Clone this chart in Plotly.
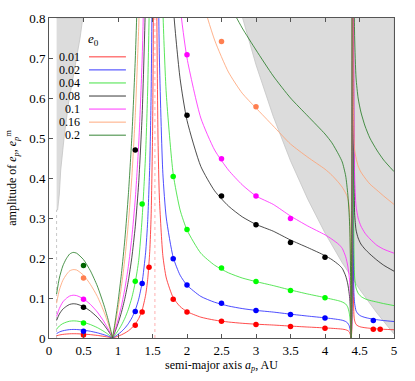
import plotly.graph_objects as go

# ---------------- data ----------------
e0_labels = ["0.01", "0.02", "0.04", "0.08", "0.1", "0.16", "0.2"]
line_colors = ["#ff2020", "#2020ff", "#30e030", "#202020", "#ff20ff", "#ffa070", "#207820"]
dot_colors = ["#ff0000", "#0000ff", "#00ff00", "#000000", "#ff00ff", "#ff7f50", "#006400"]

# x grids of the curve segments (semi-major axis, AU)
XA = [0.11, 0.15, 0.2, 0.25, 0.3, 0.35, 0.4, 0.5, 0.6, 0.7, 0.8, 0.86, 0.9, 0.92]
XB = [0.92, 0.95, 1.0, 1.05, 1.1, 1.15, 1.2, 1.25, 1.3, 1.35, 1.4, 1.43, 1.46, 1.48, 1.5, 1.51, 1.52, 1.525]
XC = [1.545, 1.55, 1.56, 1.58, 1.6, 1.65, 1.7, 1.8, 1.9, 2.0, 2.2, 2.4, 2.6, 2.8, 3.0, 3.25, 3.5, 3.75,
      4.0, 4.1, 4.2, 4.25, 4.3, 4.33, 4.35, 4.36, 4.37, 4.378, 4.385, 4.39, 4.395, 4.398, 4.3995]
XD = [4.401, 4.403, 4.406, 4.41, 4.42, 4.43, 4.45, 4.48, 4.52, 4.58, 4.65, 4.75, 4.85, 5.0]

N = None
red_A = [0.0055, 0.0075, 0.009, 0.0099, 0.0105, 0.0107, 0.0106, 0.0098, 0.0084, 0.0065, 0.004, 0.0022, 0.0008, 0]
blue_A = [0.011, 0.015, 0.018, 0.0198, 0.021, 0.0214, 0.0212, 0.0196, 0.0168, 0.013, 0.008, 0.0044, 0.0016, 0]
green_A = [0.022, 0.03, 0.036, 0.0396, 0.042, 0.0428, 0.0424, 0.0392, 0.0336, 0.026, 0.016, 0.0088, 0.0032, 0]
black_A = [0.044, 0.06, 0.072, 0.079, 0.084, 0.0856, 0.0848, 0.0784, 0.0672, 0.052, 0.032, 0.0176, 0.0064, 0]
magenta_A = [0.054, 0.074, 0.09, 0.099, 0.105, 0.107, 0.106, 0.098, 0.084, 0.065, 0.04, 0.022, 0.008, 0]
orange_A = [0.087, 0.12, 0.144, 0.158, 0.168, 0.171, 0.17, 0.157, 0.134, 0.104, 0.064, 0.035, 0.013, 0]
dkgreen_A = [0.11, 0.15, 0.18, 0.198, 0.21, 0.214, 0.212, 0.196, 0.168, 0.13, 0.08, 0.044, 0.016, 0]

red_B = [0, 0.0015, 0.0045, 0.008, 0.0124, 0.0179, 0.0251, 0.0347, 0.0485, 0.0697, 0.107, 0.146, 0.216, 0.305, 0.497, 0.708, 1.2, 1.8]
blue_B = [0, 0.0031, 0.009, 0.0161, 0.0248, 0.0358, 0.0501, 0.0695, 0.097, 0.139, 0.213, 0.291, 0.432, 0.61, 0.994, 1.42, N, N]
green_B = [0, 0.0062, 0.018, 0.0322, 0.0496, 0.0717, 0.1003, 0.139, 0.194, 0.3, 0.46, 0.62, 0.9, 1.25, N, N, N, N]
black_B = [0, 0.0123, 0.0359, 0.0643, 0.0993, 0.143, 0.2006, 0.278, 0.388, 0.558, 0.854, 1.17, N, N, N, N, N, N]
magenta_B = [0, 0.0154, 0.0449, 0.0804, 0.124, 0.179, 0.251, 0.347, 0.485, 0.697, 1.067, N, N, N, N, N, N, N]
orange_B = [0, 0.0246, 0.0718, 0.129, 0.199, 0.287, 0.401, 0.556, 0.776, 1.116, N, N, N, N, N, N, N, N]
dkgreen_B = [0, 0.0308, 0.0898, 0.161, 0.248, 0.358, 0.501, 0.695, 0.97, 1.39, N, N, N, N, N, N, N, N]

red_C = [2.17, 1.45, 0.878, 0.497, 0.35, 0.206, 0.15, 0.1008, 0.0786, 0.066, 0.0521, 0.0447, 0.04, 0.0368,
         0.0345, 0.0324, 0.0298, 0.0274, 0.0252, 0.0242, 0.023, 0.0222, 0.0206, 0.0185, 0.0155, 0.0125, 0.007,
         0, 0.01, 0.025, 0.08, 0.3, 1.0]
blue_C = [4.33, 2.9, 1.756, 0.994, 0.7, 0.412, 0.3, 0.2016, 0.157, 0.132, 0.104, 0.0894, 0.08, 0.0736,
          0.069, 0.0648, 0.0596, 0.0548, 0.0504, 0.0484, 0.046, 0.0444, 0.0412, 0.037, 0.031, 0.025, 0.014,
          0, 0.02, 0.05, 0.16, 0.6, 2.0]
green_C = [N, N, 3.51, 1.99, 1.4, 0.824, 0.61, 0.41, 0.32, 0.27, 0.212, 0.182, 0.163, 0.15,
           0.141, 0.131, 0.12, 0.11, 0.101, 0.097, 0.093, 0.09, 0.085, 0.077, 0.064, 0.052, 0.03,
           0, 0.04, 0.1, 0.32, 1.2, 4.0]
black_C = [N, N, N, N, N, N, 1.236, 0.83, 0.648, 0.544, 0.429, 0.368, 0.33, 0.303,
           0.284, 0.267, 0.245, 0.226, 0.206, 0.196, 0.183, 0.174, 0.155, 0.135, 0.112, 0.095, 0.055,
           0, 0.08, 0.2, 0.64, 2.4, 8.0]
magenta_C = [N, N, N, N, N, N, N, 1.07, 0.83, 0.7, 0.55, 0.47, 0.42, 0.383,
             0.355, 0.334, 0.305, 0.28, 0.258, 0.247, 0.234, 0.224, 0.203, 0.18, 0.155, 0.135, 0.08,
             0, 0.1, 0.25, 0.8, 3.0, 10.0]
orange_C = [N, N, N, N, N, N, N, N, 1.28, 1.07, 0.86, 0.745, 0.665, 0.612,
            0.575, 0.53, 0.485, 0.452, 0.422, 0.407, 0.388, 0.377, 0.362, 0.35, 0.33, 0.3, 0.2,
            0, 0.16, 0.4, 1.28, 4.8, 16.0]
dkgreen_C = [N, N, N, N, N, N, N, N, N, N, N, 0.93, 0.84, 0.775,
             0.72, 0.655, 0.6, 0.555, 0.51, 0.488, 0.458, 0.44, 0.405, 0.36, 0.31, 0.27, 0.17,
             0, 0.2, 0.5, 1.6, 6.0, 20.0]

red_D = [2.0, 0.6, 0.25, 0.12, 0.055, 0.043, 0.034, 0.03, 0.0275, 0.0257, 0.0243, 0.0229, 0.0218, 0.0206]
blue_D = [4.0, 1.2, 0.5, 0.24, 0.11, 0.086, 0.068, 0.06, 0.055, 0.0514, 0.0486, 0.0458, 0.0436, 0.0412]
green_D = [8.0, 2.4, 1.0, 0.48, 0.22, 0.15, 0.125, 0.112, 0.104, 0.098, 0.094, 0.09, 0.086, 0.081]
black_D = [16.0, 4.8, 2.0, 0.96, 0.45, 0.31, 0.27, 0.25, 0.235, 0.222, 0.21, 0.195, 0.182, 0.167]
magenta_D = [20.0, 6.0, 2.5, 1.2, 0.55, 0.4, 0.33, 0.3, 0.28, 0.262, 0.248, 0.232, 0.222, 0.212]
orange_D = [32.0, 9.6, 2.0, 0.6, 0.5, 0.47, 0.45, 0.43, 0.415, 0.4, 0.385, 0.37, 0.355, 0.334]
dkgreen_D = [40.0, 12.0, 5.0, 2.0, 0.9, 0.75, 0.65, 0.6, 0.565, 0.53, 0.5, 0.47, 0.445, 0.416]

# numerical points (dots)
red_dx = [0.5, 1.25, 1.35, 1.45, 1.8, 2.0, 2.5, 3.0, 3.5, 4.0, 4.7, 4.8]
red_dy = [0.0075, 0.032, 0.065, 0.177, 0.097, 0.065, 0.042, 0.034, 0.029, 0.0245, 0.022, 0.022]
blue_dx = [0.5, 1.25, 1.35, 1.8, 2.0, 2.5, 3.0, 3.5, 4.0, 4.7]
blue_dy = [0.017, 0.066, 0.136, 0.198, 0.1325, 0.087, 0.0687, 0.059, 0.05, 0.044]
green_dx = [0.5, 1.25, 1.35, 1.8, 2.0, 2.5, 3.0, 3.5, 4.0]
green_dy = [0.0375, 0.142, 0.335, 0.404, 0.271, 0.175, 0.141, 0.119, 0.1006]
black_dx = [0.5, 1.25, 2.0, 2.5, 3.0, 3.5, 4.0]
black_dy = [0.077, 0.47, 0.557, 0.355, 0.283, 0.239, 0.202]
magenta_dx = [0.5, 2.0, 2.5, 3.0, 3.5]
magenta_dy = [0.097, 0.708, 0.448, 0.355, 0.299]
orange_dx = [0.5, 2.5, 3.0]
orange_dy = [0.15, 0.741, 0.578]
dkgreen_dx = [0.5]
dkgreen_dy = [0.181]

# grey (excluded) regions
left_zone_a = [0.11, 0.49, 0.45, 0.36, 0.28, 0.22, 0.17, 0.15, 0.125, 0.11]
left_zone_e = [0.8, 0.8, 0.75, 0.665, 0.584, 0.503, 0.42, 0.36, 0.32, 0.32]
right_zone_a = [2.806, 3.0, 3.25, 3.5, 3.75, 4.0, 4.25, 4.5, 4.75, 5.0, 5.0]
right_zone_e = [0.8, 0.683, 0.554, 0.443, 0.347, 0.2625, 0.188, 0.122, 0.063, 0.01, 0.8]

resonance_a = 1.535
inner_edge_a = 0.11
x_ticks = [0, 0.5, 1, 1.5, 2, 2.5, 3, 3.5, 4, 4.5, 5]
y_ticks = [0, 0.1, 0.2, 0.3, 0.4, 0.5, 0.6, 0.7, 0.8]

curves = [
    (red_A, red_B, red_C, red_D, red_dx, red_dy),
    (blue_A, blue_B, blue_C, blue_D, blue_dx, blue_dy),
    (green_A, green_B, green_C, green_D, green_dx, green_dy),
    (black_A, black_B, black_C, black_D, black_dx, black_dy),
    (magenta_A, magenta_B, magenta_C, magenta_D, magenta_dx, magenta_dy),
    (orange_A, orange_B, orange_C, orange_D, orange_dx, orange_dy),
    (dkgreen_A, dkgreen_B, dkgreen_C, dkgreen_D, dkgreen_dx, dkgreen_dy),
]

# ---------------- figure ----------------
FONT = "Liberation Serif"
fig = go.Figure()

grey = "#dcdcdc"
for ax, ey in [(left_zone_a, left_zone_e), (right_zone_a, right_zone_e)]:
    fig.add_trace(go.Scatter(x=ax, y=ey, mode="lines", fill="toself", fillcolor=grey,
                             line=dict(color="#c4c4c4", width=0.8), hoverinfo="skip", showlegend=False))

for i, (A, B, C, D, dx, dy) in enumerate(curves):
    xs, ys = [], []
    for X, Y in [(XA, A), (XB, B), (XC, C), (XD, D)]:
        xs += list(X) + [None]
        ys += list(Y) + [None]
    fig.add_trace(go.Scatter(x=xs, y=ys, mode="lines", connectgaps=False,
                             line=dict(color=line_colors[i], width=0.8, shape="spline", smoothing=0.6),
                             showlegend=False, hoverinfo="skip"))

for i, (A, B, C, D, dx, dy) in enumerate(curves):
    fig.add_trace(go.Scatter(x=dx, y=dy, mode="markers",
                             marker=dict(color=dot_colors[i], size=5.5, line=dict(width=0)),
                             showlegend=False))

shapes = [
    dict(type="line", xref="x", yref="y", x0=resonance_a, x1=resonance_a, y0=0, y1=0.8,
         line=dict(color="#ffb0b0", width=1, dash="dot"), layer="below"),
    dict(type="line", xref="x", yref="y", x0=inner_edge_a, x1=inner_edge_a, y0=0, y1=0.32,
         line=dict(color="#c8c8c8", width=1, dash="dot"), layer="below"),
]

# gnuplot-style legend: label on the left, line sample on the right
annotations = []
row0, step = 0.8786, 0.0408
for i, lab in enumerate(e0_labels):
    yy = row0 - i * step
    annotations.append(dict(xref="paper", yref="paper", x=0.092, y=yy, text=lab, showarrow=False,
                            xanchor="right", yanchor="middle", borderpad=0,
                            font=dict(family=FONT, size=12, color="black")))
    shapes.append(dict(type="line", xref="paper", yref="paper", x0=0.116, x1=0.223, y0=yy, y1=yy,
                       line=dict(color=line_colors[i], width=0.9)))
annotations.append(dict(xref="paper", yref="paper", x=0.13, y=0.932, text="<i>e</i><sub>0</sub>",
                        showarrow=False, xanchor="center", yanchor="middle", borderpad=0,
                        font=dict(family=FONT, size=13, color="black")))

fig.update_layout(
    width=415, height=381,
    margin=dict(l=49, r=21, t=11, b=43),
    paper_bgcolor="white", plot_bgcolor="white",
    font=dict(family=FONT, size=13, color="black"),
    shapes=shapes, annotations=annotations, showlegend=False,
)
fig.update_xaxes(range=[0, 5], tickvals=x_ticks, ticks="inside", ticklen=4, tickcolor="#555",
                 showline=True, linecolor="#555", linewidth=1, mirror="ticks", showgrid=False, zeroline=False,
                 title=dict(text="semi-major axis <i>a</i><sub><i>p</i></sub>, AU", standoff=2,
                            font=dict(family=FONT, size=12)),
                 tickfont=dict(family=FONT, size=13))
fig.update_yaxes(range=[0, 0.8], tickvals=y_ticks, ticks="inside", ticklen=4, tickcolor="#555",
                 showline=True, linecolor="#555", linewidth=1, mirror=True, showgrid=False, zeroline=False,
                 title=dict(text="amplitude of <i>e</i><sub><i>p</i></sub>, <i>e</i><sub><i>p</i></sub><sup>m</sup>",
                            standoff=9, font=dict(family=FONT, size=12)),
                 tickfont=dict(family=FONT, size=13))

# remove the default 8 px body margin so the figure sits at the top-left of the page
fig.write_html("out.html", config={"displayModeBar": False},
               post_script="document.body.style.margin='0';")
